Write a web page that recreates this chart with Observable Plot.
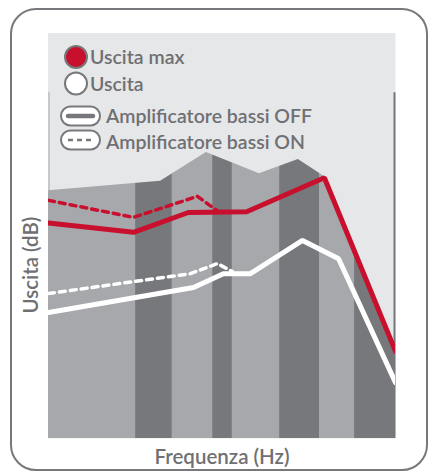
<!DOCTYPE html>
<html><head><meta charset="utf-8">
<script src="https://cdn.jsdelivr.net/npm/d3@7"></script>
<script src="https://cdn.jsdelivr.net/npm/@observablehq/plot@0.6"></script>
<style>
body{margin:0;background:#fff;width:429px;height:474px;overflow:hidden;position:relative;font-family:Lato,sans-serif}
#chart{position:absolute;left:0;top:0}
#overlay{position:absolute;left:0;top:0}
#border{position:absolute;left:10px;top:8px;width:418px;height:463px;box-sizing:border-box;border:2.5px solid #77787b;border-radius:26px;pointer-events:none}
</style></head><body>
<div id="chart"></div>
<svg id="overlay" width="429" height="474"></svg>
<div id="border"></div>
<script>
// ---- data (x: relative frequency position 0..100, y: relative output level 0..100) ----
const bandEdges = [0, 25.1, 35.7, 47.3, 53.0, 66.6, 78.1, 88.2, 100];
const bandShades = ["light", "dark", "light", "dark", "light", "dark", "light", "dark"];
const envelopeX = [0, 32.3, 45.5, 60.8, 72.0, 79.5, 100];
const envelopeY = [61.2, 63.5, 70.6, 65.4, 68.9, 64.7, 21.7];
const maxOffX = [0, 24.5, 40.3, 57.1, 79.5, 100];
const maxOffY = [53.2, 50.9, 55.8, 56.0, 64.4, 21.5];
const maxOnX = [0, 24.5, 42.9, 49.0];
const maxOnY = [58.8, 54.6, 59.8, 56.0];
const outOffX = [0, 41.8, 50.4, 58.2, 73.2, 83.6, 100];
const outOffY = [31.1, 37.3, 40.7, 40.7, 48.9, 44.4, 13.8];
const outOnX = [0, 40.9, 48.7, 53.0];
const outOnY = [35.8, 40.7, 43.2, 41.2];
const legendLabels = ["Uscita max", "Uscita", "Amplificatore bassi OFF", "Amplificatore bassi ON"];
const xLabel = "Frequenza (Hz)";
const yLabel = "Uscita (dB)";

// ---- build tables ----
const bands = bandShades.map((s, i) => ({x1: bandEdges[i], x2: bandEdges[i + 1], shade: s}));
const zip = (xs, ys) => xs.map((x, i) => ({x, y: ys[i]}));
const envelope = zip(envelopeX, envelopeY);
const maxOff = zip(maxOffX, maxOffY);
const maxOn = zip(maxOnX, maxOnY);
const outOff = zip(outOffX, outOffY);
const outOn = zip(outOnX, outOnY);

const BG = "#e6e7e8", RED = "#c8102e", TXT = "#6f7073", FONT = "Lato, sans-serif";
const LEGSIZE = 19.5, AXSIZE = 20.5, WEIGHT = 600;

const chart = Plot.plot({
  width: 429, height: 474,
  marginLeft: 48, marginRight: 34, marginTop: 33, marginBottom: 36,
  x: {domain: [0, 100], axis: null},
  y: {domain: [0, 100], axis: null},
  color: {domain: ["light", "dark"], range: ["#a7a8ab", "#77787b"]},
  style: {background: "transparent", overflow: "visible"},
  marks: [
    Plot.frame({fill: BG, stroke: "none"}),
    Plot.rect(bands, {x1: "x1", x2: "x2", y1: () => 0, y2: () => 100, fill: "shade"}),
    Plot.areaY(envelope, {x: "x", y1: "y", y2: () => 100, fill: BG, curve: "linear"}),
    Plot.ruleX([0], {y1: () => 85.4, y2: () => 0, stroke: "#a7a8ab", strokeWidth: 1, dx: 0.5}),
    Plot.ruleX([100], {y1: () => 85.4, y2: () => 0, stroke: "#77787b", strokeWidth: 2, dx: -1}),
    Plot.line(outOn, {x: "x", y: "y", stroke: "#fff", strokeWidth: 3.5, strokeDasharray: "6,5", strokeLinejoin: "miter", clip: true}),
    Plot.line(outOff, {x: "x", y: "y", stroke: "#fff", strokeWidth: 5, strokeLinejoin: "miter", clip: true}),
    Plot.line(maxOn, {x: "x", y: "y", stroke: RED, strokeWidth: 3.5, strokeDasharray: "6,5", strokeLinejoin: "miter", clip: true}),
    Plot.line(maxOff, {x: "x", y: "y", stroke: RED, strokeWidth: 5, strokeLinejoin: "miter", clip: true}),
    Plot.text([xLabel], {text: d => d, frameAnchor: "bottom", dy: 19, lineAnchor: "middle", fontSize: AXSIZE, fontWeight: WEIGHT, fill: TXT, fontFamily: FONT})
  ]
});
document.getElementById("chart").appendChild(chart);

// ---- overlay: y label and legend ----
const ov = d3.select("#overlay");
ov.append("text").attr("transform", "translate(30,265) rotate(-90)")
  .attr("text-anchor", "middle").attr("dominant-baseline", "central")
  .attr("fill", TXT).attr("font-family", FONT).attr("font-weight", WEIGHT).attr("font-size", AXSIZE)
  .text(yLabel);

const G = "#77787b";
const rows = [
  {type: "dot", fill: RED, cy: 57, ty: 64},
  {type: "dot", fill: "#fff", cy: 83.5, ty: 90.5},
  {type: "pill", dash: null, cy: 116, ty: 123},
  {type: "pill", dash: "5,4", cy: 140, ty: 148.5}
];
rows.forEach((r, i) => {
  if (r.type === "dot") {
    ov.append("circle").attr("cx", 76).attr("cy", r.cy).attr("r", 11)
      .attr("fill", r.fill).attr("stroke", G).attr("stroke-width", 2);
    ov.append("text").attr("x", 90).attr("y", r.ty).text(legendLabels[i])
      .attr("fill", TXT).attr("font-family", FONT).attr("font-weight", WEIGHT).attr("font-size", LEGSIZE);
  } else {
    ov.append("rect").attr("x", 61).attr("y", r.cy - 9.5).attr("width", 39).attr("height", 19).attr("rx", 9.5)
      .attr("fill", "#fff").attr("stroke", G).attr("stroke-width", 2);
    const ln = ov.append("line").attr("x1", 68).attr("x2", 93).attr("y1", r.cy).attr("y2", r.cy)
      .attr("stroke", G);
    if (r.dash) ln.attr("stroke-width", 2.5).attr("stroke-dasharray", r.dash).attr("x1", 68).attr("x2", 91);
    else ln.attr("stroke-width", 4.5).attr("stroke-linecap", "round");
    ov.append("text").attr("x", 106).attr("y", r.ty).text(legendLabels[i])
      .attr("fill", TXT).attr("font-family", FONT).attr("font-weight", WEIGHT).attr("font-size", LEGSIZE);
  }
});
</script>
</body></html>
